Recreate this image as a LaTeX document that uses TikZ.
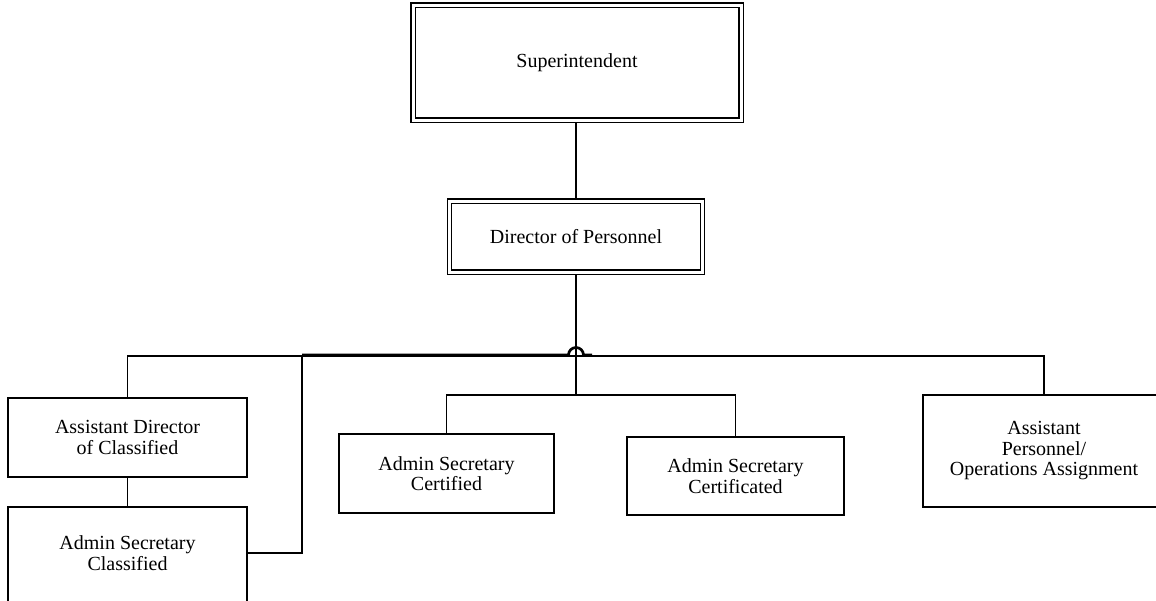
\documentclass[tikz,border=0pt]{standalone}
\usepackage{fontspec}
\setmainfont{Liberation Serif}
\usetikzlibrary{backgrounds}
\tikzset{
  box/.style={draw=black, fill=white, line width=1.3pt, inner sep=0pt, align=center,
    font=\fontsize{20}{20.5}\selectfont},
  dbox/.style={box, double=white, double distance=3pt},
  txt/.style={inner sep=0pt, align=center, font=\fontsize{20}{20.5}\selectfont},
  thinline/.style={draw=black, line width=1.4pt},
  medline/.style={draw=black, line width=1.9pt},
  thickline/.style={draw=black, line width=2.7pt},
}
\begin{document}
\begin{tikzpicture}[x=1pt, y=-1pt]
\useasboundingbox (0,0) rectangle (1156,600);
\node[dbox, minimum width=328pt, minimum height=115pt] (sup) at (577,62.5) {Superintendent};
\node[dbox, minimum width=253pt, minimum height=71pt] (dir) at (576,236.5) {Director of Personnel};
\node[box, minimum width=239pt, minimum height=79pt] (adc) at (127.5,437.5) {Assistant Director\\of Classified};
\node[box, minimum width=239pt, minimum height=110pt] (asc) at (127.5,562) {};
\node[txt] (asctext) at (127.5,553) {Admin Secretary\\Classified};
\node[box, minimum width=215pt, minimum height=79pt] (cert) at (446.5,473.5) {Admin Secretary\\Certified};
\node[box, minimum width=217pt, minimum height=78pt] (certd) at (735.5,476) {Admin Secretary\\Certificated};
\node[box, minimum width=242pt, minimum height=112pt] (ap) at (1044,451) {Assistant\\Personnel/\\Operations Assignment};
\coordinate (bus) at (576,356);
\coordinate (jb) at (576,395);
\coordinate (kt) at (302,355);
\coordinate (hopL) at (568.5,355);
\coordinate (hopE) at (592,355);
\begin{scope}[on background layer]
  \draw[thinline] (sup.south -| dir.north) -- (dir.north);
  \draw[thinline] (adc.north) |- (bus) -| (ap.north);
  \draw[thinline] (adc.south) -- (asc.north);
  \draw[thickline] (dir.south) -- (jb);
  \draw[medline] (cert.north) |- (jb) -| (certd.north);
  \draw[medline] (asctext -| asc.east) -| (kt);
  \draw[thickline] (kt) -- (hopL) arc[start angle=180, end angle=0, radius=7.5pt] -- (hopE);
\end{scope}
\end{tikzpicture}
\end{document}
